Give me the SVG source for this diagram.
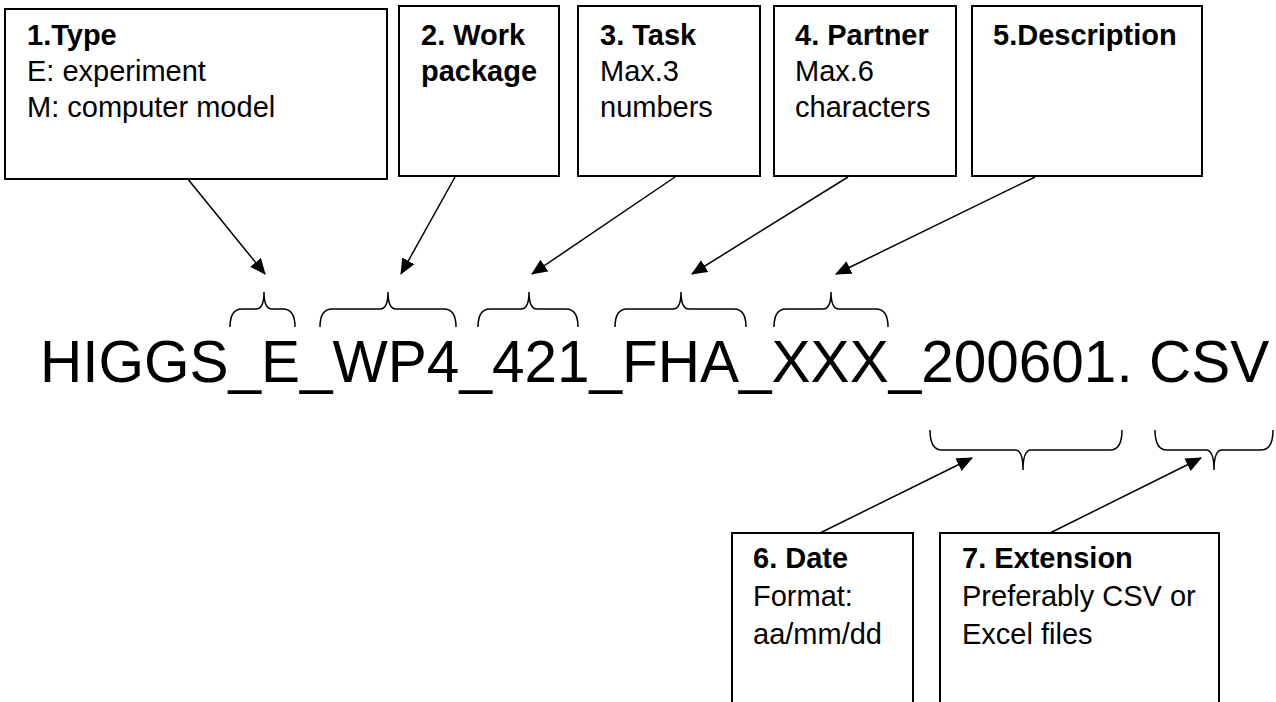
<svg xmlns="http://www.w3.org/2000/svg" width="1276" height="702" viewBox="0 0 1276 702">
<style>
.box{fill:#fff;stroke:#000;stroke-width:2}
.t{font-family:"Liberation Sans",Arial,sans-serif;font-size:29px;fill:#000}
.b{font-weight:bold}
.big{font-family:"Liberation Sans",Arial,sans-serif;font-size:58.5px;fill:#000}
.br{fill:none;stroke:#000;stroke-width:1.5}
.ar{fill:none;stroke:#000;stroke-width:1.5;marker-end:url(#ah)}
</style>
<defs>
<marker id="ah" markerUnits="userSpaceOnUse" markerWidth="16" markerHeight="14" refX="15" refY="7" orient="auto" viewBox="0 0 16 14">
<path d="M0,0 L16,7 L0,14 z" fill="#000"/>
</marker>
</defs>
<rect width="1276" height="702" fill="#fff"/>
<g id="box1"><rect class="box" x="5" y="9" width="382" height="170"/>
<text class="t b" x="27" y="45">1.Type</text>
<text class="t" x="27" y="81">E: experiment</text>
<text class="t" x="27" y="117">M: computer model</text></g>
<g id="box2"><rect class="box" x="399" y="6" width="160" height="170"/>
<text class="t b" x="421" y="45">2. Work</text>
<text class="t b" x="421" y="81">package</text></g>
<g id="box3"><rect class="box" x="578" y="6" width="182" height="170"/>
<text class="t b" x="600" y="45">3. Task</text>
<text class="t" x="600" y="81">Max.3</text>
<text class="t" x="600" y="117">numbers</text></g>
<g id="box4"><rect class="box" x="774" y="6" width="182" height="170"/>
<text class="t b" x="795" y="45">4. Partner</text>
<text class="t" x="795" y="81">Max.6</text>
<text class="t" x="795" y="117">characters</text></g>
<g id="box5"><rect class="box" x="972" y="6" width="230" height="170"/>
<text class="t b" x="993" y="45">5.Description</text></g>
<g id="filename"><text class="big" x="40" y="382">HIGGS_E_WP4_421_FHA_XXX_200601. CSV</text></g>
<g id="braces">
<path class="br" d="M230,327 Q230,309 242,309 L256,309 Q264,309 264,292 Q264,309 272,309 L283,309 Q295,309 295,327"/>
<path class="br" d="M320,327 Q320,309 332,309 L380,309 Q388,309 388,292 Q388,309 396,309 L444,309 Q456,309 456,327"/>
<path class="br" d="M478,327 Q478,309 490,309 L521,309 Q529,309 529,292 Q529,309 537,309 L566,309 Q578,309 578,327"/>
<path class="br" d="M615,327 Q615,309 627,309 L673,309 Q681,309 681,292 Q681,309 689,309 L734,309 Q746,309 746,327"/>
<path class="br" d="M774,327 Q774,309 786,309 L823,309 Q831,309 831,292 Q831,309 839,309 L876,309 Q888,309 888,327"/>
<path class="br" d="M930,430 Q930,450 942,450 L1015,450 Q1023,450 1023,470 Q1023,450 1031,450 L1110,450 Q1122,450 1122,430"/>
<path class="br" d="M1155,430 Q1155,450 1167,450 L1206,450 Q1214,450 1214,470 Q1214,450 1222,450 L1261,450 Q1273,450 1273,430"/>
</g>
<g id="connectors">
<line class="ar" x1="187" y1="178" x2="265" y2="274"/>
<line class="ar" x1="455" y1="177" x2="401" y2="274"/>
<line class="ar" x1="675" y1="177" x2="532" y2="274"/>
<line class="ar" x1="848" y1="177" x2="692" y2="274"/>
<line class="ar" x1="1035" y1="177" x2="836" y2="274"/>
<line class="ar" x1="820" y1="533" x2="972" y2="458"/>
<line class="ar" x1="1050" y1="533" x2="1201" y2="458"/>
</g>
<g id="box6"><rect class="box" x="732" y="533" width="181" height="180"/>
<text class="t b" x="753" y="568">6. Date</text>
<text class="t" x="753" y="606">Format:</text>
<text class="t" x="753" y="644">aa/mm/dd</text></g>
<g id="box7"><rect class="box" x="940" y="533" width="279" height="180"/>
<text class="t b" x="962" y="568">7. Extension</text>
<text class="t" x="962" y="606">Preferably CSV or</text>
<text class="t" x="962" y="644">Excel files</text></g>
</svg>
